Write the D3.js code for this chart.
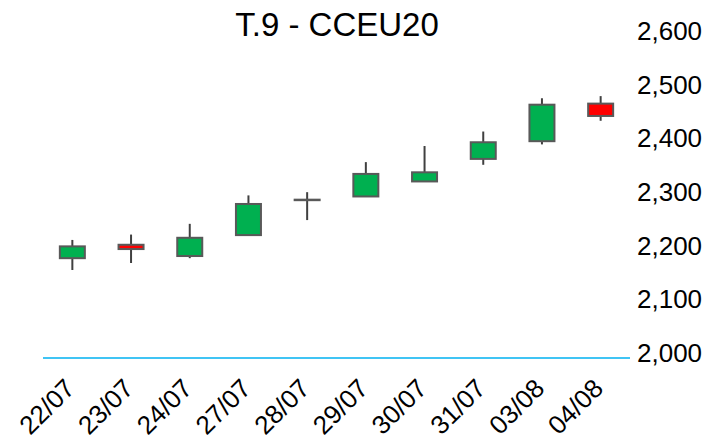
<!DOCTYPE html>
<html>
<head>
<meta charset="utf-8">
<script src="https://cdn.jsdelivr.net/npm/d3@7/dist/d3.min.js"></script>
<style>
  body { margin: 0; background: #fff; }
  text { font-family: "Liberation Sans", Arial, sans-serif; fill: #000; }
</style>
</head>
<body>
<div id="chart"></div>
<script>

var dates  = ["22/07", "23/07", "24/07", "27/07", "28/07", "29/07", "30/07", "31/07", "03/08", "04/08"],
    opens  = [2186, 2211, 2190, 2229, 2295, 2301, 2329, 2371, 2404, 2474],
    highs  = [2220, 2230, 2250, 2303, 2309, 2365, 2395, 2422, 2484, 2488],
    lows   = [2164, 2177, 2186, 2229, 2257, 2300, 2329, 2360, 2398, 2442],
    closes = [2208, 2203, 2224, 2287, 2295, 2343, 2346, 2402, 2472, 2451];

var yTicks = [2000, 2100, 2200, 2300, 2400, 2500, 2600];

var svg_dx = 708,
    svg_dy = 441,
    plot = {left: 43, right: 630, top: 36, bottom: 358};

var data = dates.map((d, i) => ({
    date: d, open: opens[i], high: highs[i], low: lows[i], close: closes[i]
}));

var x = d3.scaleBand().domain(dates).range([plot.left, plot.right]),
    y = d3.scaleLinear().domain([2000, 2600]).range([plot.bottom, plot.top]);

var formatTick = d3.format(",");

var svg = d3.select("#chart")
            .append("svg")
            .attr("width", svg_dx)
            .attr("height", svg_dy);

// title
svg.append("text")
   .attr("x", 337)
   .attr("y", 36)
   .attr("text-anchor", "middle")
   .style("font-size", "33px")
   .text("T.9 - CCEU20");

// x axis line
svg.append("line")
   .attr("x1", plot.left)
   .attr("x2", plot.right)
   .attr("y1", y(2000))
   .attr("y2", y(2000))
   .style("stroke", "#00b0f0")
   .style("stroke-width", 1.5);

// y labels on the right
svg.append("g")
   .selectAll("text")
   .data(yTicks)
   .enter()
   .append("text")
   .attr("x", 637)
   .attr("y", d => y(d) + 4)
   .style("font-size", "26px")
   .text(d => formatTick(d));

// x labels, rotated
svg.append("g")
   .selectAll("text")
   .data(dates)
   .enter()
   .append("text")
   .attr("text-anchor", "end")
   .attr("transform", d => "translate(" + (x(d) + x.bandwidth() / 2 + 4) + "," + 390 + ") rotate(-45)")
   .style("font-size", "26px")
   .text(d => d);

var bodyW = 25;

var candles = svg.append("g")
                 .selectAll("g")
                 .data(data)
                 .enter()
                 .append("g");

// wicks
candles.append("line")
       .attr("x1", d => x(d.date) + x.bandwidth() / 2)
       .attr("x2", d => x(d.date) + x.bandwidth() / 2)
       .attr("y1", d => y(d.high))
       .attr("y2", d => y(d.low))
       .style("stroke", "#404040")
       .style("stroke-width", 2);

// bodies
candles.append("rect")
       .attr("x", d => x(d.date) + x.bandwidth() / 2 - bodyW / 2)
       .attr("y", d => y(Math.max(d.open, d.close)))
       .attr("width", bodyW)
       .attr("height", d => Math.max(0.5, Math.abs(y(d.open) - y(d.close))))
       .style("fill", d => d.close >= d.open ? "#00b050" : "#ff0000")
       .style("stroke", "#595959")
       .style("stroke-width", 2);

</script>
</body>
</html>
